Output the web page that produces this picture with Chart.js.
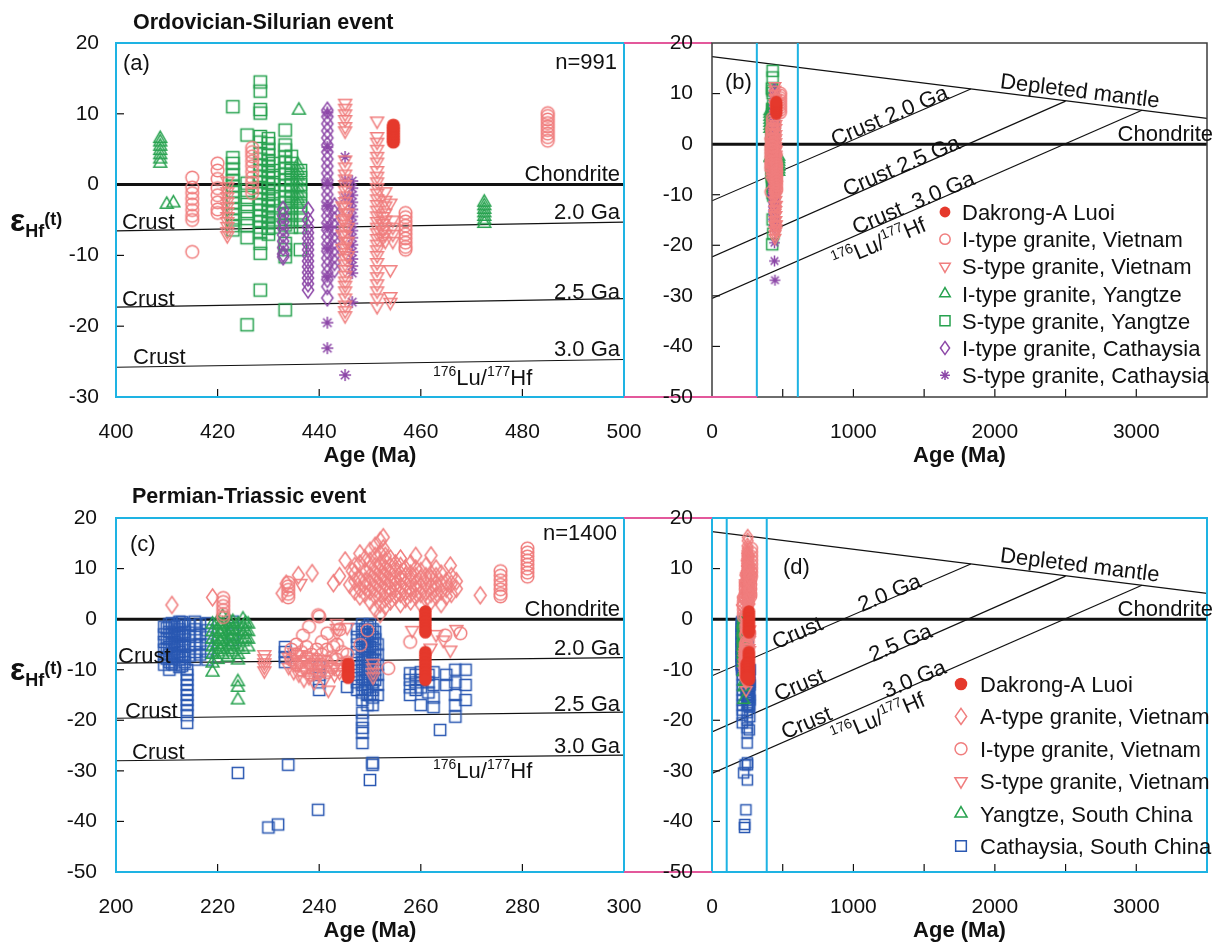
<!DOCTYPE html>
<html lang="en">
<head>
<meta charset="UTF-8" />
<title>Hf isotope plots</title>
<script src="https://cdn.jsdelivr.net/npm/chart.js"></script>
<style>
  body { margin: 0; background: #fff; }
  #wrap { position: relative; width: 1222px; height: 952px; }
  canvas { position: absolute; left: 0; top: 0; }
</style>
</head>
<body>
<div id="wrap">
  <canvas id="chartA" width="1222" height="952"></canvas>
  <canvas id="chartB" width="1222" height="952"></canvas>
  <canvas id="chartC" width="1222" height="952"></canvas>
  <canvas id="chartD" width="1222" height="952"></canvas>
</div>
<script>
// ---- Ordovician-Silurian data, [age Ma, eHf(t)] ----
const aDakrong = [[454.6,6.0],[454.6,6.4],[454.6,6.8],[454.6,7.2],[454.6,7.6],[454.6,8.0],[454.6,8.4]];
const aIVietnam = [
  [415,1.0],[415,-0.4],[415,-1.2],[415,-2.0],[415,-2.8],[415,-3.6],[415,-4.4],[415,-5.0],[415,-9.5],
  [420,3.0],[420,2.0],[420,0.8],[420,-0.5],[420,-1.5],[420,-2.5],[420,-3.5],[420,-4.0],
  [426.8,5.2],[426.8,4.6],[426.8,4.0],[426.8,3.3],[426.8,2.6],[426.8,1.8],[426.8,1.0],[426.8,0.3],[426.8,-0.5],[426.8,-1.2],
  [457,-4.0],[457,-4.6],[457,-5.2],[457,-5.8],[457,-6.4],[457,-7.0],[457,-7.6],[457,-8.2],[457,-8.8],[457,-9.2],
  [485,6.2],[485,6.7],[485,7.2],[485,7.7],[485,8.2],[485,8.7],[485,9.2],[485,9.7],[485,10.1]
];
const aSVietnam = [
  [421.9,0.5],[421.9,-0.3],[421.9,-1.0],[421.9,-1.7],[421.9,-2.4],[421.9,-3.1],[421.9,-3.8],[421.9,-4.5],[421.9,-5.2],[421.9,-5.9],[421.9,-6.6],[421.9,-7.2],
  [445.1,11.5],[445.1,10.8],[445.1,10.0],[445.1,9.2],[445.1,8.2],[445.1,7.6],
  [445.1,3.5],[445.1,2.5],[445.1,1.5],[445.1,0.8],[445.1,0.0],[445.1,-0.8],[445.1,-1.6],[445.1,-2.4],[445.1,-3.2],[445.1,-4.0],
  [445.1,-4.8],[445.1,-5.6],[445.1,-6.4],[445.1,-7.2],[445.1,-8.0],[445.1,-8.8],[445.1,-9.6],[445.1,-10.4],[445.1,-11.2],[445.1,-12.0],
  [445.1,-12.8],[445.1,-13.6],[445.1,-14.2],[445.1,-15.0],[445.1,-16.0],[445.1,-17.0],[445.1,-17.8],[445.1,-18.5],
  [444.6,-3.0],[444.6,-5.0],[444.6,-7.0],[444.6,-9.0],[445.6,-4.0],[445.6,-6.0],[445.6,-8.0],[445.6,-10.0],
  [451.4,9.0],[451.4,6.8],[451.4,6.0],[451.4,5.0],[451.4,4.0],[451.4,3.2],[451.4,2.0],[451.4,1.2],[451.4,0.4],[451.4,-0.4],
  [451.4,-1.2],[451.4,-2.0],[451.4,-2.8],[451.4,-3.6],[451.4,-4.4],[451.4,-5.2],[451.4,-6.0],[451.4,-6.8],[451.4,-7.6],[451.4,-8.4],
  [451.4,-9.2],[451.4,-10.0],[451.4,-11.0],[451.4,-12.0],[451.4,-13.0],[451.4,-14.0],[451.4,-15.0],[451.4,-16.0],[451.4,-17.2],
  [453.0,-1.0],[453.0,-2.2],[453.0,-3.0],[453.0,-4.0],[453.0,-5.0],[453.0,-6.0],[453.0,-7.0],[453.0,-8.0],
  [454.0,-2.6],[454.0,-12.0],[454.0,-15.8],[454.0,-16.6],
  [452.5,-4.5],[452.5,-5.5],[452.5,-6.5],[452.5,-7.5],[454.5,-5.0],[454.5,-6.0],[454.5,-7.0],[454.5,-8.0]
];
const aIYangtze = [
  [408.7,3.0],[408.7,3.6],[408.7,4.2],[408.7,4.8],[408.7,5.4],[408.7,6.0],[408.7,6.5],
  [410.0,-2.8],[411.3,-2.6],[436.0,10.5],
  [435.8,2.8],[435.8,2.0],[435.8,1.2],[435.8,0.4],[435.8,-0.4],[435.8,-1.2],[435.8,-2.0],[435.8,-2.8],
  [472.5,-2.5],[472.5,-3.0],[472.5,-3.5],[472.5,-4.0],[472.5,-4.5],[472.5,-5.0],[472.5,-5.5]
];
const aSYangtze = [
  [423,11.0],[423,3.8],[423,3.0],[423,2.2],[423,1.4],[423,0.6],[423,-0.2],[423,-1.0],[423,-1.8],[423,-2.6],[423,-3.4],[423,-4.2],[423,-5.0],[423,-5.8],[423,-6.4],
  [425.8,7.0],[425.8,0.2],[425.8,-0.8],[425.8,-1.8],[425.8,-2.8],[425.8,-3.8],[425.8,-4.8],[425.8,-5.8],[425.8,-7.5],[425.8,-19.8],
  [428.4,14.5],[428.4,13.2],[428.4,10.6],[428.4,10.1],[428.4,6.8],[428.4,6.0],[428.4,4.4],[428.4,3.6],[428.4,2.8],[428.4,2.0],[428.4,1.2],[428.4,0.4],
  [428.4,-0.4],[428.4,-1.2],[428.4,-2.0],[428.4,-2.8],[428.4,-3.6],[428.4,-4.4],[428.4,-5.2],[428.4,-6.0],[428.4,-6.8],[428.4,-8.3],[428.4,-9.7],[428.4,-14.9],
  [430,6.5],[430,5.8],[430,5.0],[430,4.2],[430,3.4],[430,2.6],[430,1.8],[430,1.0],[430,0.2],[430,-0.6],[430,-1.4],[430,-2.2],[430,-3.0],[430,-3.8],[430,-4.6],[430,-5.4],[430,-6.2],[430,-7.0],
  [431,3.0],[431,2.0],[431,1.0],[431,0.0],[431,-1.0],[431,-2.0],[431,-3.0],[431,-4.0],[431,-5.0],[431,-6.0],
  [433.3,7.7],[433.3,5.6],[433.3,4.9],[433.3,3.9],[433.3,3.1],[433.3,2.3],[433.3,1.5],[433.3,0.7],[433.3,-0.1],[433.3,-0.9],[433.3,-1.7],
  [433.3,-2.5],[433.3,-3.3],[433.3,-4.1],[433.3,-4.9],[433.3,-5.7],[433.3,-8.3],[433.3,-9.2],[433.3,-10.2],[433.3,-17.7],
  [434.5,4.0],[434.5,3.0],[434.5,2.0],[434.5,1.0],[434.5,0.0],[434.5,-1.0],[434.5,-2.0],[434.5,-3.0],[434.5,-4.0],[434.5,-5.0],[434.5,-6.0],
  [436.3,2.0],[436.3,1.0],[436.3,0.0],[436.3,-1.0],[436.3,-2.0],[436.3,-3.0],[436.3,-4.0],[436.3,-5.0],[436.3,-6.0],[436.3,-9.2]
];
const aICathaysia = [
  [432.9,-3.5],[432.9,-4.4],[432.9,-5.3],[432.9,-6.2],[432.9,-7.1],[432.9,-8.0],[432.9,-8.9],[432.9,-9.8],[432.9,-10.2],
  [437.8,-3.6],[437.8,-5.0],[437.8,-6.0],[437.8,-6.8],[437.8,-7.6],[437.8,-8.4],[437.8,-9.2],[437.8,-10.0],[437.8,-10.8],[437.8,-11.6],[437.8,-12.4],[437.8,-13.2],[437.8,-14.0],[437.8,-14.9],
  [441.6,10.5],[441.6,9.6],[441.6,8.6],[441.6,7.6],[441.6,6.6],[441.6,5.6],[441.6,4.6],[441.6,3.6],[441.6,2.6],[441.6,1.6],[441.6,0.6],[441.6,-0.4],
  [441.6,-1.4],[441.6,-2.4],[441.6,-3.4],[441.6,-4.4],[441.6,-5.4],[441.6,-6.4],[441.6,-7.4],[441.6,-8.4],[441.6,-9.4],[441.6,-10.4],[441.6,-11.4],
  [441.6,-12.4],[441.6,-13.4],[441.6,-14.4],[441.6,-16.0],
  [443,-3.0],[443,-4.0],[443,-5.0],[443,-6.0],[443,-7.0],[443,-8.0],[443,-9.0],[443,-10.0],[443,-11.0],[443,-12.0]
];
const aSCathaysia = [
  [441.6,10.2],[441.6,5.3],[441.6,0.2],[441.6,-3.0],[441.6,-6.0],[441.6,-9.0],[441.6,-13.0],[441.6,-19.5],[441.6,-23.1],
  [445.1,3.9],[445.1,0.6],[445.1,-1.8],[446.5,-16.6],[445.1,-26.9],
  [446.5,0.5],[446.5,-0.5],[446.5,-1.5],[446.5,-2.5],[446.5,-3.5],[446.5,-4.5],[446.5,-5.5],[446.5,-6.5],[446.5,-7.5],[446.5,-8.5],
  [446.5,-9.5],[446.5,-10.5],[446.5,-11.5],[446.5,-12.5]
];

// ---- Permian-Triassic data, [age Ma, eHf(t)] ----
const cDakrong = [
  [260.9,1.5],[260.9,0.8],[260.9,0.1],[260.9,-0.6],[260.9,-1.3],[260.9,-2.0],[260.9,-2.6],
  [260.9,-6.5],[260.9,-7.2],[260.9,-7.9],[260.9,-8.6],[260.9,-9.3],[260.9,-10.0],[260.9,-10.7],[260.9,-11.4],[260.9,-12.0],
  [245.7,-8.8],[245.7,-9.4],[245.7,-10.0],[245.7,-10.6],[245.7,-11.2],[245.7,-11.6]
];
const cAVietnam = [
  [211,2.8],[219,4.3],[232.7,5.1],[233.5,7.0],[235.9,8.7],[238.6,9.1],[242.8,7.1],[245.1,11.6],[244,8.5],[246,6.8],[246.5,9.5],
  [247,5.5],[247,7.5],[247,9.0],[247,10.5],
  [248,4.5],[248,6.0],[248,8.0],[248,11.0],[248,13.0],
  [249,5.0],[249,6.5],[249,7.5],[249,9.5],[249,12.0],
  [250,3.5],[250,5.5],[250,7.0],[250,8.5],[250,10.0],[250,11.5],[250,13.5],
  [251,2.0],[251,4.5],[251,6.0],[251,7.5],[251,9.0],[251,10.5],[251,12.5],[251,14.5],
  [252,1.0],[252,3.0],[252,5.0],[252,6.5],[252,8.0],[252,9.5],[252,11.0],[252,13.0],[252,15.5],
  [252.6,16.2],[252.6,14.0],[252.6,8.5],
  [253,2.5],[253,4.0],[253,5.5],[253,7.0],[253,8.5],[253,10.0],[253,11.5],[253,12.5],
  [254,3.5],[254,5.0],[254,6.0],[254,7.5],[254,9.0],[254,10.5],[254,12.0],
  [255,4.5],[255,6.0],[255,7.0],[255,8.0],[255,9.5],[255,11.0],
  [256,3.0],[256,5.0],[256,6.5],[256,8.0],[256,9.0],[256,10.5],[256,12.0],
  [257,4.0],[257,5.5],[257,7.0],[257,8.5],[257,10.0],
  [258,3.5],[258,5.0],[258,6.0],[258,7.5],[258,9.0],[258,11.0],
  [259,4.5],[259,6.0],[259,7.0],[259,8.5],[259,10.0],[259,12.5],
  [260,3.0],[260,5.0],[260,6.5],[260,8.0],[260,9.5],
  [261,4.0],[261,5.5],[261,7.0],[261,8.5],[261,10.5],
  [262,3.5],[262,5.0],[262,6.5],[262,8.0],[262,9.0],[262,12.6],
  [263,4.5],[263,6.0],[263,7.0],[263,8.5],[263,10.0],
  [264,3.0],[264,5.5],[264,7.0],[264,9.0],
  [265,4.5],[265,6.0],[265,7.5],[265.8,10.6],
  [266,5.0],[266,7.0],[266,8.5],[267,6.0],[267,7.5],[271.7,4.7]
];
const cIVietnam = [
  [221.1,4.2],[221.1,3.4],[221.1,2.6],[221.1,1.8],[221.1,1.0],[221.1,0.4],
  [233.9,7.2],[233.9,6.5],[233.9,5.8],[233.9,5.0],[233.9,4.3],
  [239.8,0.8],[236.8,-3.2],[241.6,-2.8],[242.8,-5.5],[248.1,-5.1],[249.5,-2.2],[253.6,-9.7],[267.8,-2.8],[264.8,-3.2],[257.9,-4.5],
  [238,-1.5],[240,0.5],[244,-2.0],
  [234.5,-6.0],[234.5,-8.0],[235.5,-5.0],[235.5,-7.0],[235.5,-9.0],[236.5,-6.5],[236.5,-8.5],[236.5,-10.0],
  [237.5,-5.5],[237.5,-7.5],[237.5,-9.5],[238.5,-7.0],[238.5,-9.0],[238.5,-11.0],[239.5,-6.0],[239.5,-8.0],[239.5,-10.0],
  [240.5,-4.5],[240.5,-7.0],[240.5,-9.0],[241.5,-6.0],[241.5,-8.5],[241.5,-10.5],[242.5,-7.5],[242.5,-9.5],
  [243.5,-5.0],[243.5,-8.0],[243.5,-10.0],[244.5,-6.5],[244.5,-9.0],[245.5,-7.0],[245.5,-8.5],
  [275.7,9.5],[275.7,8.6],[275.7,7.7],[275.7,6.8],[275.7,5.9],[275.7,5.0],[275.7,4.5],
  [281,14.0],[281,13.2],[281,12.4],[281,11.6],[281,10.8],[281,10.0],[281,9.2],[281,8.4]
];
const cSVietnam = [
  [229.2,-7.0],[229.2,-7.8],[229.2,-8.6],[229.2,-9.4],[229.2,-10.2],
  [236.3,7.1],[243.5,-0.8],[243.5,-1.8],[243.5,-2.8],[245.5,-1.6],
  [234,-7.5],[234,-9.5],[235,-6.5],[235,-8.5],[235,-10.5],[236,-7.0],[236,-9.0],[236,-11.0],
  [237,-8.0],[237,-10.0],[237,-12.0],[238,-7.5],[238,-9.5],[238,-11.5],[239,-8.5],[239,-10.5],[239,-12.5],
  [240,-9.0],[240,-11.0],[241,-8.0],[241,-10.0],[241,-12.0],[241.8,-14.0],[243,-9.5],[243,-11.0],[244,-10.5],
  [258.3,-2.2],[264.4,-4.1],[261.9,-5.7],[265.8,-6.1],[263,-3.0],[267,-2.0],
  [250.6,-8.7],[250.6,-9.6],[250.6,-10.5],[250.6,-11.4]
];
const cYangtze = [
  [219,-1.0],[219,-2.5],[219,-4.0],[219,-5.5],[219,-7.0],[219,-8.7],[219,-10.5],
  [220,-0.5],[220,-2.0],[220,-3.5],[220,-5.0],[220,-6.5],[220,-8.0],
  [220.5,-1.2],[220.5,-2.8],[220.5,-4.4],[220.5,-6.0],
  [221,0.5],[221,-1.0],[221,-2.5],[221,-4.0],[221,-5.5],[221,-7.0],
  [222,0.0],[222,-1.5],[222,-3.0],[222,-4.5],[222,-6.0],[222,-7.5],
  [222.5,-0.8],[222.5,-2.3],[222.5,-3.8],[222.5,-5.3],
  [223,-0.5],[223,-2.0],[223,-3.5],[223,-5.0],[223,-6.5],
  [224,-1.0],[224,-2.5],[224,-4.0],[224,-5.5],[224,-7.0],[224,-8.1],[224,-12.4],[224,-13.5],[224,-16.0],
  [225,0.0],[225,-1.5],[225,-3.0],[225,-4.5],[225,-6.0],
  [225.5,-0.8],[225.5,-2.3],[225.5,-3.8],
  [226,-1.0],[226,-2.5],[226,-4.0],[226,-5.5]
];
const cCathaysia = [
  [209.5,-1.5],[209.5,-3.0],[209.5,-4.5],[209.5,-6.0],[209.5,-7.5],[209.5,-9.0],
  [210,-1.8],[210,-3.8],[210,-5.8],[210,-7.8],
  [210.5,-1.0],[210.5,-2.5],[210.5,-4.0],[210.5,-5.5],[210.5,-7.0],[210.5,-8.5],[210.5,-10.0],
  [211,-0.8],[211,-2.8],[211,-4.8],[211,-6.8],[211,-8.8],
  [211.5,-1.5],[211.5,-3.0],[211.5,-4.5],[211.5,-6.0],[211.5,-7.5],[211.5,-9.0],
  [212,-1.3],[212,-3.3],[212,-5.3],[212,-7.3],
  [212.5,-0.5],[212.5,-2.0],[212.5,-3.5],[212.5,-5.0],[212.5,-6.5],[212.5,-8.0],[212.5,-9.5],
  [213,-0.6],[213,-3.0],[213,-5.0],[213,-7.5],[213,-9.2],
  [213.5,-1.0],[213.5,-2.5],[213.5,-4.0],[213.5,-5.5],[213.5,-7.0],[213.5,-8.5],
  [214,-10.0],[214,-11.0],[214,-12.0],[214,-13.0],[214,-14.0],[214,-15.0],[214,-16.0],[214,-17.0],[214,-18.0],[214,-19.0],[214,-20.5],
  [214.5,-1.2],[214.5,-3.2],[214.5,-5.2],[214.5,-7.2],
  [215.5,-0.5],[215.5,-2.0],[215.5,-3.5],[215.5,-5.0],[215.5,-6.5],[215.5,-8.0],
  [216.5,-1.0],[216.5,-3.0],[216.5,-5.0],[216.5,-7.0],
  [218,-0.8],[218,-2.2],[218,-3.6],[218,-5.0],[218,-6.4],[218,-8.0],
  [223,-0.5],[223,-1.8],[223,-3.0],[223,-4.1],
  [233.3,-5.5],[233.3,-6.5],[233.3,-7.5],[233.3,-8.5],
  [240,-9.5],[240,-11.0],[240,-12.5],[240,-14.0],[245.5,-13.4],
  [247.5,-2.0],[247.5,-3.5],[247.5,-5.0],[247.5,-6.5],[247.5,-8.0],[247.5,-9.5],[247.5,-11.0],[247.5,-12.5],[247.5,-14.0],
  [248.5,-1.0],[248.5,-2.5],[248.5,-4.0],[248.5,-5.5],[248.5,-7.0],[248.5,-8.5],[248.5,-10.0],[248.5,-11.5],[248.5,-13.0],
  [248.5,-14.5],[248.5,-16.0],[248.5,-18.5],[248.5,-20.0],[248.5,-21.5],[248.5,-22.5],[248.5,-24.5],
  [249,-2.0],[249,-4.0],[249,-6.0],[249,-8.0],[249,-10.0],[249,-12.0],[249,-14.0],
  [249.5,-1.5],[249.5,-3.0],[249.5,-4.5],[249.5,-6.0],[249.5,-7.5],[249.5,-9.0],[249.5,-10.5],[249.5,-12.0],[249.5,-13.5],[249.5,-15.0],[249.5,-17.0],
  [250,-1.0],[250,-3.0],[250,-5.5],[250,-7.5],[250,-10.0],[250,-12.0],[250,-15.0],
  [250.5,-2.0],[250.5,-3.5],[250.5,-5.0],[250.5,-6.5],[250.5,-8.0],[250.5,-9.5],[250.5,-11.0],[250.5,-12.5],[250.5,-14.0],
  [250.5,-15.5],[250.5,-17.0],[250.5,-28.4],[250.5,-28.8],[250,-31.8],
  [251,-2.5],[251,-4.0],[251,-6.0],[251,-8.0],[251,-10.0],[251,-12.0],
  [251.5,-5.0],[251.5,-7.0],[251.5,-9.0],[251.5,-11.0],[251.5,-13.0],[251.5,-15.0],
  [257.9,-10.7],[257.9,-12.0],[257.9,-13.5],[257.9,-15.0],[259,-11.0],[259,-12.5],[259,-14.0],
  [260,-10.5],[260,-12.0],[260,-13.5],[260,-17.0],[261.5,-11.0],[261.5,-12.5],[261.5,-14.5],
  [262.5,-10.5],[262.5,-13.0],[262.5,-15.5],[262.5,-17.4],[263.8,-21.9],[265,-11.0],[265,-13.0],
  [266.8,-10.0],[266.8,-12.5],[266.8,-15.0],[266.8,-17.0],[266.8,-19.3],[268.8,-10.0],[268.8,-13.0],[268.8,-16.0],
  [224,-30.4],[233.9,-28.8],[230,-41.2],[231.9,-40.6],[239.8,-37.7]
];

// ---- reference lines ----
const aChondrite = [[400,0],[500,0]];
const aCrust20 = [[400,-6.55],[500,-5.3]];
const aCrust25 = [[400,-17.3],[500,-16.1]];
const aCrust30 = [[400,-25.8],[500,-24.7]];
const cChondrite = [[200,0],[300,0]];
const cCrust20 = [[200,-8.7],[300,-7.6]];
const cCrust25 = [[200,-19.6],[300,-18.4]];
const cCrust30 = [[200,-28.0],[300,-26.9]];
const evoChondrite = [[0,0],[3500,0]];
const evoDepleted = [[0,17.3],[3500,5.1]];
const evoCrust20 = [[0,-11.2],[1830,10.9]];
const evoCrust25 = [[0,-22.3],[2500,8.5]];
const evoCrust30 = [[0,-30.5],[3040,6.7]];

// ---- axis ticks ----
const aXTicks = [400, 420, 440, 460, 480, 500];
const aYTicks = [-30, -20, -10, 0, 10, 20];
const cXTicks = [200, 220, 240, 260, 280, 300];
const wideXTicks = [0, 500, 1000, 1500, 2000, 2500, 3000, 3500];
const wideYTicks = [-50, -40, -30, -20, -10, 0, 10, 20];

const SALMON = '#F07E7E', RED = '#E5392C', GREEN = '#27A24F', PURPLE = '#8D48A8', BLUE = '#2A58B2';
const CYAN = '#1EB3E3', PINK = '#E3589B', INK = '#111111';
const FONT = 'Arial, "Liberation Sans", Helvetica, sans-serif';
Chart.defaults.font.family = FONT;
Chart.defaults.color = INK;

// marker shapes drawn into small canvases, used as point styles
function traceMarker(g, shape, s, color) {
  g.strokeStyle = color; g.fillStyle = color; g.lineWidth = 1.5;
  g.beginPath();
  if (shape === 'dot' || shape === 'circle') g.arc(0, 0, s, 0, Math.PI * 2);
  else if (shape === 'tri') { g.moveTo(0, -s); g.lineTo(s * 0.866, s * 0.5); g.lineTo(-s * 0.866, s * 0.5); g.closePath(); }
  else if (shape === 'itri') { g.moveTo(0, s); g.lineTo(s * 0.866, -s * 0.5); g.lineTo(-s * 0.866, -s * 0.5); g.closePath(); }
  else if (shape === 'square') g.rect(-s * 0.72, -s * 0.72, s * 1.44, s * 1.44);
  else if (shape === 'diamond') { g.moveTo(0, -s); g.lineTo(s * 0.7, 0); g.lineTo(0, s); g.lineTo(-s * 0.7, 0); g.closePath(); }
  else if (shape === 'star') {
    for (let i = 0; i < 4; i++) {
      const an = i * Math.PI / 4;
      g.moveTo(Math.cos(an) * s, Math.sin(an) * s); g.lineTo(-Math.cos(an) * s, -Math.sin(an) * s);
    }
  }
  if (shape === 'dot') g.fill(); else g.stroke();
}
function markerImage(st, k) {
  const s = st.size * k;
  const d = Math.ceil(s * 2 + 4);
  const cv = document.createElement('canvas');
  cv.width = d; cv.height = d;
  const g = cv.getContext('2d');
  g.translate(d / 2, d / 2);
  traceMarker(g, st.shape, s, st.color);
  return cv;
}

const STY = {
  dak: { shape: 'dot', size: 6.6, color: RED },
  iVn: { shape: 'circle', size: 6.3, color: SALMON },
  sVn: { shape: 'itri', size: 7.4, color: SALMON },
  aVn: { shape: 'diamond', size: 8.5, color: SALMON },
  iYz: { shape: 'tri', size: 7.4, color: GREEN },
  sYz: { shape: 'square', size: 8.5, color: GREEN },
  iCa: { shape: 'diamond', size: 8, color: PURPLE },
  sCa: { shape: 'star', size: 6, color: PURPLE },
  ca: { shape: 'square', size: 7.8, color: BLUE }
};

function pts(arr) { return arr.map(([x, y]) => ({ x, y })); }
function markerSet(arr, st, k) {
  return { data: pts(arr), showLine: false, pointStyle: markerImage(st, k), pointRadius: st.size * k };
}
function lineSet(arr, w) {
  return { data: pts(arr), showLine: true, borderColor: INK, borderWidth: w, pointRadius: 0, tension: 0 };
}

function drawRich(ctx, s) {
  ctx.save();
  ctx.translate(s.x, s.y);
  if (s.rot) ctx.rotate(s.rot * Math.PI / 180);
  ctx.fillStyle = INK;
  ctx.textBaseline = 'alphabetic';
  const fnt = p => (p.bold ? 'bold ' : '') + p.size + 'px ' + FONT;
  const ws = s.parts.map(p => { ctx.font = fnt(p); return ctx.measureText(p.t).width; });
  const total = ws.reduce((m, w) => m + w, 0);
  let cx = s.align === 'right' ? -total : s.align === 'center' ? -total / 2 : 0;
  const base = 0.36 * s.parts[0].size;
  s.parts.forEach((p, i) => { ctx.font = fnt(p); ctx.fillText(p.t, cx, base + (p.dy || 0)); cx += ws[i]; });
  ctx.restore();
}
function T(t, x, y, align, rot, size, bold) {
  return { parts: [{ t, size: size || 22, bold: !!bold }], x, y, align: align || 'left', rot: rot || 0 };
}
function luHf(x, y, align, rot) {
  return { parts: [{ t: '176', size: 22, dy: -9, small: true }, { t: 'Lu/', size: 22 }, { t: '177', size: 14, dy: -9 }, { t: 'Hf', size: 22 }]
    .map(p => p.small ? { t: p.t, size: 14, dy: -9 } : p), x, y: y + 3, align, rot };
}
function epsTitle(x, y) {
  return { parts: [{ t: 'ε', size: 32, bold: true }, { t: 'Hf', size: 18, bold: true, dy: 6 }, { t: '(t)', size: 18, bold: true, dy: -6 }], x, y, align: 'left' };
}

function decor(spec) {
  return {
    id: 'decor',
    afterDraw(chart) {
      const ctx = chart.ctx, a = chart.chartArea, xs = chart.scales.x, ys = chart.scales.y;
      ctx.save();
      ctx.strokeStyle = INK; ctx.lineWidth = 1.2;
      xs.ticks.forEach(t => {
        if (t.value <= xs.min || t.value >= xs.max) return;
        const px = xs.getPixelForValue(t.value);
        ctx.beginPath(); ctx.moveTo(px, a.bottom); ctx.lineTo(px, a.bottom - 8); ctx.stroke();
      });
      ys.ticks.forEach(t => {
        if (t.value <= ys.min || t.value >= ys.max) return;
        const py = ys.getPixelForValue(t.value);
        ctx.beginPath(); ctx.moveTo(a.left, py); ctx.lineTo(a.left + 8, py); ctx.stroke();
      });
      ctx.strokeStyle = spec.frame; ctx.lineWidth = spec.frameWidth || 2;
      ctx.strokeRect(a.left, a.top, a.right - a.left, a.bottom - a.top);
      (spec.vlines || []).forEach(v => {
        const px = xs.getPixelForValue(v);
        ctx.strokeStyle = CYAN; ctx.lineWidth = 2;
        ctx.beginPath(); ctx.moveTo(px, a.top); ctx.lineTo(px, a.bottom); ctx.stroke();
      });
      (spec.pink || []).forEach(([x1, y1, x2, y2]) => {
        ctx.strokeStyle = PINK; ctx.lineWidth = 2;
        ctx.beginPath(); ctx.moveTo(x1, y1); ctx.lineTo(x2, y2); ctx.stroke();
      });
      (spec.texts || []).forEach(s => drawRich(ctx, s));
      if (spec.legend) {
        const L = spec.legend;
        L.items.forEach(([st, label], i) => {
          const y = L.y + i * L.dy;
          ctx.save(); ctx.translate(L.mx, y); traceMarker(ctx, st.shape, st.size * L.k, st.color); ctx.restore();
          drawRich(ctx, T(label, L.tx, y, 'left'));
        });
      }
      ctx.restore();
    }
  };
}

function makeChart(id, cfg) {
  return new Chart(document.getElementById(id), {
    type: 'scatter',
    data: { datasets: cfg.datasets },
    options: {
      responsive: false,
      animation: false,
      events: [],
      layout: { padding: cfg.pad },
      plugins: { legend: { display: false }, tooltip: { enabled: false } },
      scales: {
        x: {
          type: 'linear', min: cfg.xMin, max: cfg.xMax,
          afterFit: s => { s.height = 72; },
          afterBuildTicks: s => { s.ticks = cfg.xTicks.map(v => ({ value: v })); },
          ticks: { padding: 15, font: { size: 21 }, maxRotation: 0, autoSkip: false, callback: cfg.xLabel || (v => String(v)) },
          grid: { display: false }, border: { display: false },
          title: { display: true, text: 'Age (Ma)', font: { size: 22, weight: 'bold' }, padding: 0 }
        },
        y: {
          type: 'linear', min: cfg.yMin, max: 20,
          afterFit: s => { s.width = 60; },
          afterBuildTicks: s => { s.ticks = cfg.yTicks.map(v => ({ value: v })); },
          ticks: { padding: cfg.yPad, font: { size: 21 }, autoSkip: false },
          grid: { display: false }, border: { display: false }
        }
      }
    },
    plugins: [decor(cfg.decor)]
  });
}

// (a)
makeChart('chartA', {
  datasets: [
    markerSet(aDakrong, STY.dak, 1), markerSet(aIVietnam, STY.iVn, 1), markerSet(aSVietnam, STY.sVn, 1),
    markerSet(aICathaysia, STY.iCa, 1), markerSet(aSCathaysia, STY.sCa, 1),
    markerSet(aIYangtze, STY.iYz, 1), markerSet(aSYangtze, STY.sYz, 1),
    lineSet(aChondrite, 3), lineSet(aCrust20, 1.2), lineSet(aCrust25, 1.2), lineSet(aCrust30, 1.2)
  ],
  pad: { left: 56, top: 43, right: 598, bottom: 483 },
  xMin: 400, xMax: 500, yMin: -30, xTicks: aXTicks, yTicks: aYTicks, yPad: 9,
  decor: {
    frame: CYAN,
    pink: [[624, 43, 712, 43], [624, 397, 712, 397]],
    texts: [
      T('Ordovician-Silurian event', 133, 21, 'left', 0, 21.5, true), epsTitle(10, 219),
      T('(a)', 123, 62), T('n=991', 617, 61, 'right'), T('Chondrite', 620, 173, 'right'),
      T('Crust', 122, 221), T('2.0 Ga', 620, 211, 'right'),
      T('Crust', 122, 298), T('2.5 Ga', 620, 291, 'right'),
      T('Crust', 133, 356), T('3.0 Ga', 620, 348, 'right'),
      luHf(433, 377, 'left', 0)
    ]
  }
});

// (b)
makeChart('chartB', {
  datasets: [
    markerSet(aDakrong, STY.dak, 0.9), markerSet(aIVietnam, STY.iVn, 0.9), markerSet(aSVietnam, STY.sVn, 0.9),
    markerSet(aICathaysia, STY.iCa, 0.9), markerSet(aSCathaysia, STY.sCa, 0.9),
    markerSet(aIYangtze, STY.iYz, 0.9), markerSet(aSYangtze, STY.sYz, 0.9),
    lineSet(evoChondrite, 3), lineSet(evoDepleted, 1.2), lineSet(evoCrust20, 1.2), lineSet(evoCrust25, 1.2), lineSet(evoCrust30, 1.2)
  ],
  pad: { left: 652, top: 43, right: 4, bottom: 483 },
  xMin: 0, xMax: 3500, yMin: -50, xTicks: wideXTicks, yTicks: wideYTicks, yPad: 11,
  xLabel: v => (v % 1000 === 0 && v < 3500 ? String(v) : ''),
  decor: {
    frame: '#3c3c3c', frameWidth: 1.5, vlines: [317, 607],
    pink: [[700, 397, 757, 397]],
    texts: [
      T('(b)', 725, 81), T('Chondrite', 1213, 133, 'right'), T('Depleted mantle', 1080, 90, 'center', 7),
      T('Crust 2.0 Ga', 889, 115, 'center', -23), T('Crust 2.5 Ga', 901, 165, 'center', -23),
      T('Crust  3.0 Ga', 913, 202, 'center', -23), luHf(880, 242, 'center', -23)
    ],
    legend: {
      mx: 945, tx: 962, y: 212, dy: 27.2, k: 0.82,
      items: [[STY.dak, 'Dakrong-A Luoi'], [STY.iVn, 'I-type granite, Vietnam'], [STY.sVn, 'S-type granite, Vietnam'],
        [STY.iYz, 'I-type granite, Yangtze'], [STY.sYz, 'S-type granite, Yangtze'],
        [STY.iCa, 'I-type granite, Cathaysia'], [STY.sCa, 'S-type granite, Cathaysia']]
    }
  }
});

// (c)
makeChart('chartC', {
  datasets: [
    markerSet(cDakrong, STY.dak, 0.95), markerSet(cAVietnam, STY.aVn, 1), markerSet(cIVietnam, STY.iVn, 1),
    markerSet(cSVietnam, STY.sVn, 1), markerSet(cYangtze, STY.iYz, 1), markerSet(cCathaysia, STY.ca, 1),
    lineSet(cChondrite, 3), lineSet(cCrust20, 1.2), lineSet(cCrust25, 1.2), lineSet(cCrust30, 1.2)
  ],
  pad: { left: 56, top: 518, right: 598, bottom: 8 },
  xMin: 200, xMax: 300, yMin: -50, xTicks: cXTicks, yTicks: wideYTicks, yPad: 11,
  decor: {
    frame: CYAN,
    pink: [[624, 518, 712, 518], [624, 872, 712, 872]],
    texts: [
      T('Permian-Triassic event', 132, 495, 'left', 0, 21.5, true), epsTitle(10, 668),
      T('(c)', 130, 543), T('n=1400', 617, 532, 'right'), T('Chondrite', 620, 608, 'right'),
      T('Crust', 118, 655), T('2.0 Ga', 620, 647, 'right'),
      T('Crust', 125, 710), T('2.5 Ga', 620, 703, 'right'),
      T('Crust', 132, 751), T('3.0 Ga', 620, 745, 'right'),
      luHf(433, 770, 'left', 0)
    ]
  }
});

// (d)
makeChart('chartD', {
  datasets: [
    markerSet(cDakrong, STY.dak, 0.95), markerSet(cAVietnam, STY.aVn, 0.9), markerSet(cIVietnam, STY.iVn, 0.9),
    markerSet(cSVietnam, STY.sVn, 0.9), markerSet(cYangtze, STY.iYz, 0.9), markerSet(cCathaysia, STY.ca, 0.9),
    lineSet(evoChondrite, 3), lineSet(evoDepleted, 1.2), lineSet(evoCrust20, 1.2), lineSet(evoCrust25, 1.2), lineSet(evoCrust30, 1.2)
  ],
  pad: { left: 652, top: 518, right: 4, bottom: 8 },
  xMin: 0, xMax: 3500, yMin: -50, xTicks: wideXTicks, yTicks: wideYTicks, yPad: 11,
  xLabel: v => (v % 1000 === 0 && v < 3500 ? String(v) : ''),
  decor: {
    frame: CYAN, vlines: [104, 387],
    pink: [[700, 518, 712, 518], [700, 872, 712, 872]],
    texts: [
      T('(d)', 783, 566), T('Chondrite', 1213, 608, 'right'), T('Depleted mantle', 1080, 564, 'center', 7),
      T('Crust', 797, 632, 'center', -23), T('2.0 Ga', 889, 592, 'center', -23),
      T('Crust', 799, 684, 'center', -23), T('2.5 Ga', 900, 642, 'center', -23),
      T('Crust', 806, 722, 'center', -23), T('3.0 Ga', 914, 678, 'center', -23),
      luHf(879, 717, 'center', -23)
    ],
    legend: {
      mx: 961, tx: 980, y: 684, dy: 32.4, k: 0.95,
      items: [[STY.dak, 'Dakrong-A Luoi'], [STY.aVn, 'A-type granite, Vietnam'], [STY.iVn, 'I-type granite, Vietnam'],
        [STY.sVn, 'S-type granite, Vietnam'], [STY.iYz, 'Yangtze, South China'], [STY.ca, 'Cathaysia, South China']]
    }
  }
});
</script>
</body>
</html>
